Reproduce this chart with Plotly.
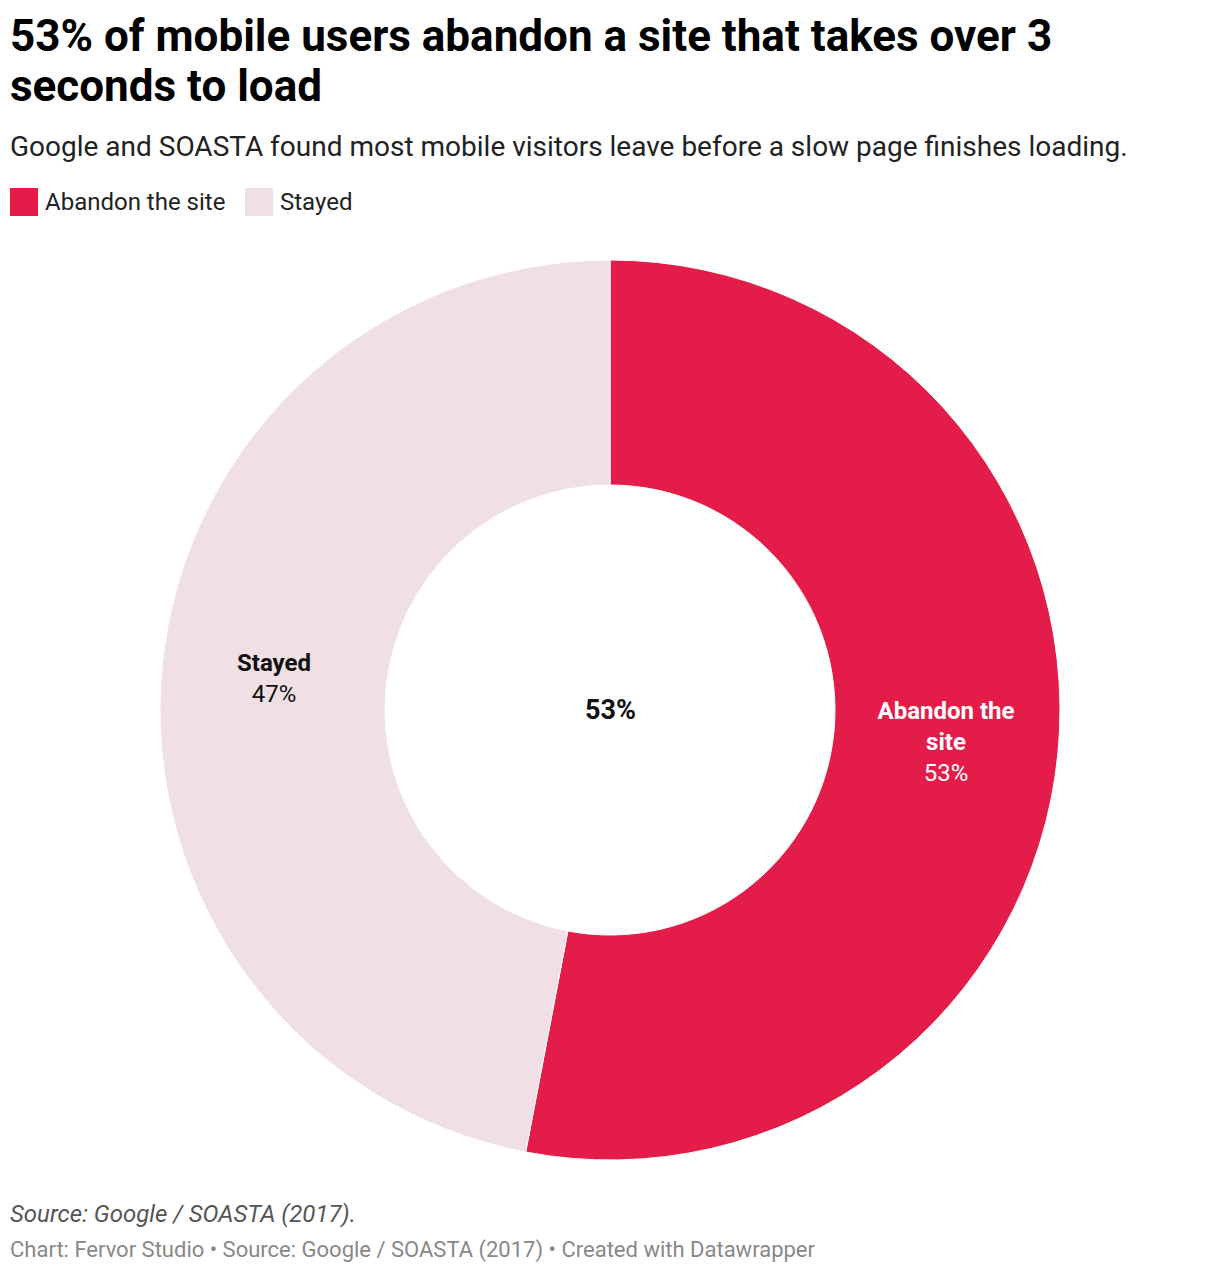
import plotly.graph_objects as go

labels = ["Abandon the site", "Stayed"]
wrapped_labels = ["Abandon the<br>site", "Stayed"]
values = [53, 47]
colors = ["#e31c4a", "#f0dfe4"]
text_colors = ["#ffffff", "#111111"]

title_lines = ["53% of mobile users abandon a site that takes over 3", "seconds to load"]
subtitle = "Google and SOASTA found most mobile visitors leave before a slow page finishes loading."
source_note = "Source: Google / SOASTA (2017)."
credit = "Chart: Fervor Studio • Source: Google / SOASTA (2017) • Created with Datawrapper"

OFF = 8  # page body margin
W, H = 1212, 1266
L, R, T, B = 152, 160, 252, 114
pw, ph = W - L - R, H - T - B


def px(x):
    # page x -> paper x
    return (x - OFF - L) / pw


def py(y):
    # page y -> paper y
    return (H - B - (y - OFF)) / ph


fig = go.Figure()
fig.add_trace(go.Pie(
    labels=labels,
    values=values,
    customdata=wrapped_labels,
    hole=0.5,
    sort=False,
    direction="clockwise",
    rotation=0,
    marker=dict(colors=colors, line=dict(color="#ffffff", width=1)),
    texttemplate="<b>%{customdata}</b><br>%{percent:.0%}",
    textposition="inside",
    insidetextorientation="horizontal",
    insidetextfont=dict(family="Roboto", size=24, color=text_colors),
    hoverinfo="label+percent",
    showlegend=False,
))

# center label
fig.add_annotation(text=f"<b>{values[0]}%</b>", x=0.5, y=0.5, xref="paper", yref="paper",
                   showarrow=False, font=dict(family="Roboto", size=27, color="#111111"))

# title block
for i, line in enumerate(title_lines):
    fig.add_annotation(text=f"<b>{line}</b>", x=px(8), y=py(36 + 50 * i), xref="paper", yref="paper",
                       xanchor="left", yanchor="middle", align="left", showarrow=False,
                       font=dict(family="Roboto", size=44, color="#000000"))
fig.add_annotation(text=subtitle, x=px(8), y=py(147), xref="paper", yref="paper",
                   xanchor="left", yanchor="middle", align="left", showarrow=False,
                   font=dict(family="Roboto", size=28, color="#222222"))

# legend (swatches + text)
leg_x = [10, 245]
for i, lab in enumerate(labels):
    fig.add_shape(type="rect", xref="paper", yref="paper",
                  x0=px(leg_x[i]), x1=px(leg_x[i] + 28), y0=py(216), y1=py(188),
                  fillcolor=colors[i], line=dict(width=0))
    fig.add_annotation(text=lab, x=px(leg_x[i] + 33), y=py(202), xref="paper", yref="paper",
                       xanchor="left", yanchor="middle", showarrow=False,
                       font=dict(family="Roboto", size=24, color="#222222"))

# footer
fig.add_annotation(text=f"<i>{source_note}</i>", x=px(8), y=py(1214), xref="paper", yref="paper",
                   xanchor="left", yanchor="middle", showarrow=False,
                   font=dict(family="Roboto", size=24, color="#555555"))
fig.add_annotation(text=credit, x=px(8), y=py(1250), xref="paper", yref="paper",
                   xanchor="left", yanchor="middle", showarrow=False,
                   font=dict(family="Roboto", size=22, color="#888888"))

fig.update_layout(
    width=W, height=H,
    margin=dict(l=L, r=R, t=T, b=B),
    paper_bgcolor="#ffffff",
    plot_bgcolor="#ffffff",
    font=dict(family="Roboto"),
)

fig.write_html("out.html")
